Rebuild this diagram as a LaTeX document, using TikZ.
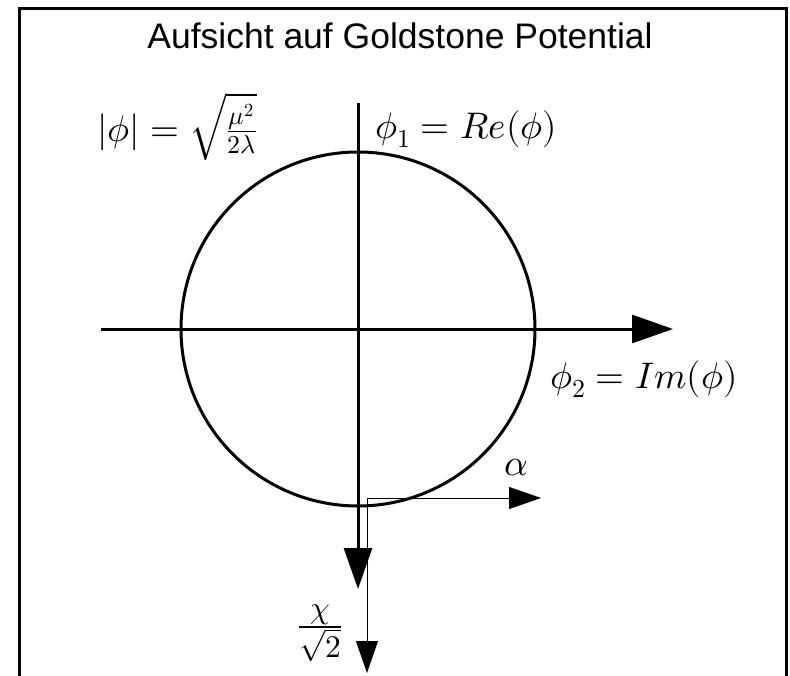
\documentclass[tikz,border=0pt]{standalone}
\usepackage{unicode-math}
\setmathfont{Latin Modern Math}
\newfontfamily\titlefont{Liberation Sans}
\usetikzlibrary{arrows.meta}

\begin{document}
\begin{tikzpicture}[
                x=1pt, y=-1pt,
                every node/.style={inner sep=0pt},
                axis/.style={line width=3pt, -{Triangle[length=41pt, width=28pt]}},
                thinaxis/.style={line width=1pt, -{Triangle[length=32pt, width=22pt]}},
                mathlabel/.style={font=\fontsize{37}{44}\selectfont}
            ]
            \useasboundingbox (0,0) rectangle (790,675);

            % frame, open at the bottom
            \draw[line width=3pt] (19,700) -- (19,8) -- (786,8) -- (786,700);

            \node[anchor=base, font=\titlefont\fontsize{35.5}{42}\selectfont] (title) at (400,48) {Aufsicht auf Goldstone Potential};

            % axes and vacuum circle
            \coordinate (origin) at (358,329);
            \coordinate (top) at (358,103);
            \coordinate (bottom) at (358,589);
            \coordinate (left) at (101,329);
            \coordinate (right) at (673,329);
            \draw[line width=3pt] (origin) circle[radius=177pt];
            \draw[axis] (top) -- (bottom);
            \draw[axis] (left) -- (right);

            % excitations at the minimum
            \coordinate (vac) at (367,498);
            \coordinate (chiend) at (367,673);
            \coordinate (alphaend) at (541,498);
            \draw[thinaxis] (vac) -- (chiend);
            \draw[thinaxis] (vac) -- (alphaend);

            \node[mathlabel, anchor=base west] (phione) at (375,138) {$\phi_1 = Re(\phi)$};
            \node[mathlabel, anchor=base west] (phitwo) at (550,388) {$\phi_2 = Im(\phi)$};
            \node[mathlabel, anchor=base west] (radius) at (97,141) {$|\phi| = \sqrt{\frac{\mu^2}{2\lambda}}$};
            \node[mathlabel, anchor=base] (alpha) at (516,475) {$\alpha$};
            \node[mathlabel, font=\fontsize{45}{54}\selectfont] (chi) at (320,633) {$\frac{\chi}{\sqrt{2}}$};

        \end{tikzpicture}
\end{document}
